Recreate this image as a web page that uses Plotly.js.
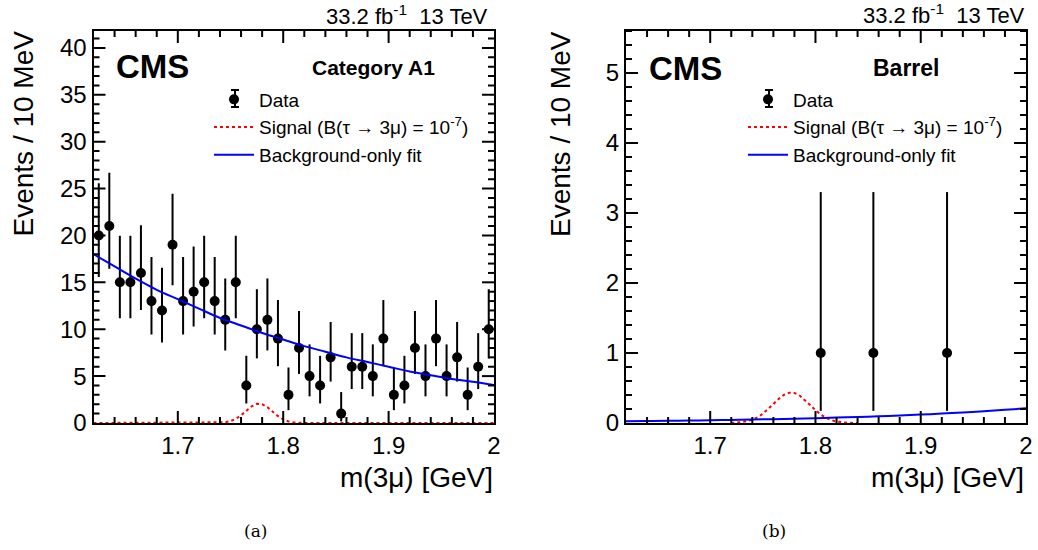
<!DOCTYPE html>
<html>
<head>
<meta charset="utf-8">
<script src="https://cdn.plot.ly/plotly-3.0.1.min.js"></script>
<style>html,body{margin:0;padding:0;background:#fff;}#chart{width:1038px;height:550px;}</style>
</head>
<body>
<div id="chart"></div>
<script>
// ---------- data ----------
const binCentersA1 = [1.625,1.635,1.645,1.655,1.665,1.675,1.685,1.695,1.705,1.715,
  1.725,1.735,1.745,1.755,1.765,1.775,1.785,1.795,1.805,1.815,
  1.825,1.835,1.845,1.855,1.865,1.875,1.885,1.895,1.905,1.915,
  1.925,1.935,1.945,1.955,1.965,1.975,1.985,1.995];
const countsA1 = [20,21,15,15,16,13,12,19,13,14,
  15,13,11,15,4,10,11,9,3,8,
  5,4,7,1,6,6,5,9,3,4,
  8,5,9,5,7,3,6,10];

const binCentersBarrel = [1.805,1.855,1.925];
const countsBarrel = [1,1,1];

// Poisson (Garwood) 68% interval half-widths, index = observed count
const poissonDown = [0,0.827,1.292,1.633,1.914,2.159,2.380,2.581,2.768,2.943,3.108,3.265,3.415,3.559,3.697,3.831,3.960,4.084,4.205,4.323,4.438,4.550];
const poissonUp   = [1.841,2.299,2.637,2.918,3.162,3.382,3.583,3.770,3.945,4.110,4.266,4.416,4.559,4.698,4.832,4.962,5.089,5.211,5.331,5.448,5.562,5.673];

// background-only fit curves
const bgMass = [1.62,1.64,1.66,1.68,1.70,1.72,1.74,1.76,1.78,1.80,1.82,1.84,1.86,1.88,1.90,1.92,1.94,1.96,1.98,2.00];
const bgA1 = [18.0,16.7,15.4,14.2,13.2,12.2,11.2,10.4,9.6,8.9,8.2,7.6,7.0,6.5,6.0,5.5,5.1,4.7,4.4,4.05];
const bgBarrel = [0.025,0.028,0.031,0.035,0.039,0.044,0.049,0.055,0.061,0.069,0.077,0.086,0.096,0.107,0.120,0.135,0.151,0.168,0.188,0.210];

// signal shapes
const sigMassA1 = [1.62,1.72,1.73,1.74,1.745,1.75,1.755,1.76,1.765,1.77,1.775,1.78,1.785,1.79,1.795,1.80,1.805,1.81,1.815,1.82,1.83,1.84,2.0];
const sigA1 = [0,0,0.002,0.026,0.078,0.20,0.44,0.82,1.31,1.77,2.04,2.01,1.69,1.20,0.73,0.38,0.17,0.064,0.020,0.006,0,0,0];
const sigMassBarrel = [1.72,1.73,1.74,1.745,1.75,1.755,1.76,1.765,1.77,1.775,1.78,1.785,1.79,1.795,1.80,1.805,1.81,1.815,1.82,1.83,1.84];
const sigBarrel = [0,0.012,0.047,0.082,0.132,0.197,0.271,0.344,0.402,0.432,0.429,0.392,0.330,0.256,0.183,0.121,0.073,0.041,0.021,0.004,0];

const dataLabel = 'Data';
const sigLabel = 'Signal (B(τ → 3μ) = 10<sup>-7</sup>)';
const bgLabel = 'Background-only fit';

// ---------- geometry / style ----------
const W = 1038, H = 550;
const px = v => v / W;
const py = v => 1 - v / H;
const X_RANGE = [1.62, 2.0];
const Y_RANGE_A1 = [0, 41.8];
const Y_RANGE_BARREL = [0, 5.6];
const yDom = [1 - 423 / H, 1 - 31 / H];
const xDomA = [93.5 / W, 494 / W];
const xDomB = [626 / W, 1026 / W];
const FONT = 'Liberation Sans, Arial, Helvetica, sans-serif';

// ---------- traces ----------
function dataTrace(x, y, xa, ya, leg) {
  return {
    x: x, y: y, xaxis: xa, yaxis: ya, type: 'scatter', mode: 'markers',
    name: dataLabel, legend: leg,
    marker: {color: '#000', size: 10},
    error_y: {type: 'data', symmetric: false,
      array: y.map(n => poissonUp[n]), arrayminus: y.map(n => poissonDown[n]),
      color: '#000', thickness: 2, width: 0}
  };
}
function lineTrace(x, y, xa, ya, leg, name, color, dash, shape) {
  return {x: x, y: y, xaxis: xa, yaxis: ya, type: 'scatter', mode: 'lines',
    name: name, legend: leg, line: {color: color, width: 2, dash: dash, shape: shape}};
}

// ROOT-style inside tick marks on all four frame sides, drawn on the axes' own scales
function frameTickTrace(xa, ya, xDom, yRange, yMajor, yMinor) {
  const xs = [], ys = [];
  const plotW = (xDom[1] - xDom[0]) * W, plotH = (yDom[1] - yDom[0]) * H;
  const xSpan = X_RANGE[1] - X_RANGE[0], ySpan = yRange[1] - yRange[0];
  const nx = Math.round(xSpan / 0.02);
  for (let i = 1; i < nx; i++) {
    const v = +(X_RANGE[0] + i * 0.02).toFixed(3);
    const major = Math.abs(v * 10 - Math.round(v * 10)) < 1e-6;
    const L = (major ? 12 : 6) / plotH * ySpan;
    xs.push(v, v, null, v, v, null);
    ys.push(yRange[0], yRange[0] + L, null, yRange[1], yRange[1] - L, null);
  }
  const ny = Math.floor(yRange[1] / yMinor + 1e-6);
  for (let j = 1; j <= ny; j++) {
    const v = +(j * yMinor).toFixed(4);
    const major = Math.abs(v / yMajor - Math.round(v / yMajor)) < 1e-6;
    const L = (major ? 12 : 6) / plotW * xSpan;
    xs.push(X_RANGE[0], X_RANGE[0] + L, null, X_RANGE[1], X_RANGE[1] - L, null);
    ys.push(v, v, null, v, v, null);
  }
  return {x: xs, y: ys, xaxis: xa, yaxis: ya, type: 'scatter', mode: 'lines',
    connectgaps: false, showlegend: false, hoverinfo: 'skip', cliponaxis: false,
    line: {color: '#000', width: 2}};
}

const traces = [
  dataTrace(binCentersA1, countsA1, 'x', 'y', 'legend'),
  lineTrace(sigMassA1, sigA1, 'x', 'y', 'legend', sigLabel, '#ff0000', '3px,3px', 'linear'),
  lineTrace(bgMass, bgA1, 'x', 'y', 'legend', bgLabel, '#0000ff', 'solid', 'spline'),
  dataTrace(binCentersBarrel, countsBarrel, 'x2', 'y2', 'legend2'),
  lineTrace(sigMassBarrel, sigBarrel, 'x2', 'y2', 'legend2', sigLabel, '#ff0000', '3px,3px', 'linear'),
  lineTrace(bgMass, bgBarrel, 'x2', 'y2', 'legend2', bgLabel, '#0000ff', 'solid', 'spline'),
  frameTickTrace('x', 'y', xDomA, Y_RANGE_A1, 5, 1),
  frameTickTrace('x2', 'y2', xDomB, Y_RANGE_BARREL, 1, 0.2)
];

// ---------- layout ----------
function xAxis(dom, anchor) {
  return {domain: dom, anchor: anchor, range: X_RANGE,
    tickmode: 'linear', tick0: 1.7, dtick: 0.1,
    ticks: '', showline: true, linecolor: 'black', linewidth: 2, mirror: true,
    showgrid: false, zeroline: false,
    tickfont: {family: FONT, size: 24, color: '#000'}};
}
function yAxis(dom, anchor, range, step) {
  return {domain: dom, anchor: anchor, range: range,
    tickmode: 'linear', tick0: 0, dtick: step,
    ticks: '', showline: true, linecolor: 'black', linewidth: 2, mirror: true,
    showgrid: false, zeroline: false,
    tickfont: {family: FONT, size: 24, color: '#000'}};
}

function ann(text, x, y, xanchor, size, opts) {
  return Object.assign({text: text, x: x, y: y, xref: 'paper', yref: 'paper',
    xanchor: xanchor, yanchor: 'middle', showarrow: false, borderpad: 0,
    font: {family: FONT, size: size, color: '#000'}}, opts || {});
}

const annotations = [
  ann('<b>CMS</b>', px(115), py(66.5), 'left', 33),
  ann('<b>CMS</b>', px(648), py(68), 'left', 33),
  ann('<b>Category A1</b>', px(373), py(67), 'center', 21),
  ann('<b>Barrel</b>', px(906), py(68.5), 'center', 23),
  ann('33.2 fb<sup>-1</sup>\u00a0\u00a013 TeV', px(489), py(15), 'right', 22),
  ann('33.2 fb<sup>-1</sup>\u00a0\u00a013 TeV', px(1026), py(14), 'right', 22),
  ann('m(3μ) [GeV]', px(494), py(477), 'right', 28),
  ann('m(3μ) [GeV]', px(1025), py(477), 'right', 28),
  ann('Events / 10 MeV', px(22.5), py(30), 'center', 28, {textangle: -90, yanchor: 'top'}),
  ann('Events / 10 MeV', px(560), py(30), 'center', 28, {textangle: -90, yanchor: 'top'}),
  ann('(a)', px(255), py(531), 'center', 17, {font: {family: 'DejaVu Serif, serif', size: 17, color: '#000'}}),
  ann('(b)', px(774), py(531), 'center', 17, {font: {family: 'DejaVu Serif, serif', size: 17, color: '#000'}})
];

// legend error-bar glyphs next to the "Data" legend markers
function legendErrGlyph(xc) {
  const x0 = px(xc - 4), x1 = px(xc + 4), xm = px(xc);
  const yt = py(90), yb = py(107);
  return {type: 'path', xref: 'paper', yref: 'paper', line: {color: '#000', width: 2},
    path: `M${x0},${yt} L${x1},${yt} M${xm},${yt} L${xm},${yb} M${x0},${yb} L${x1},${yb}`};
}

const legendStyle = {font: {family: FONT, size: 19, color: '#000'}, bgcolor: 'rgba(0,0,0,0)',
  itemwidth: 40, xanchor: 'left', yanchor: 'top', tracegroupgap: 0, traceorder: 'normal'};

const layout = {
  width: W, height: H,
  margin: {l: 0, r: 0, t: 0, b: 0},
  paper_bgcolor: '#fff', plot_bgcolor: '#fff',
  font: {family: FONT, color: '#000'},
  showlegend: true,
  xaxis: xAxis(xDomA, 'y'),
  yaxis: yAxis(yDom, 'x', Y_RANGE_A1, 5),
  xaxis2: xAxis(xDomB, 'y2'),
  yaxis2: yAxis(yDom, 'x2', Y_RANGE_BARREL, 1),
  legend: Object.assign({x: px(209), y: py(80.5)}, legendStyle),
  legend2: Object.assign({x: px(743), y: py(80.5)}, legendStyle),
  annotations: annotations,
  shapes: [legendErrGlyph(235), legendErrGlyph(769)]
};

Plotly.newPlot('chart', traces, layout, {displayModeBar: false});
</script>
</body>
</html>
